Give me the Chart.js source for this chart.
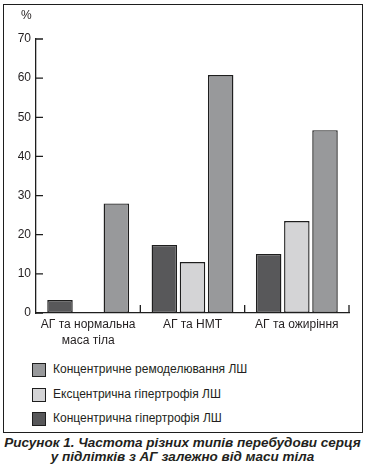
<!DOCTYPE html>
<html>
<head>
<meta charset="utf-8">
<script src="https://cdn.jsdelivr.net/npm/chart.js@4.4.1/dist/chart.umd.min.js"></script>
<style>
  html, body { margin: 0; padding: 0; background: #fff; }
  #page { position: relative; width: 365px; height: 474px; font-family: 'Liberation Sans', Arial, sans-serif; color: #231f20; }
  #frame { position: absolute; left: 3px; top: 4px; width: 360px; height: 429px; border: 1.5px solid #1e1e1e; box-sizing: border-box; }
  #chart { position: absolute; left: 0; top: 0; }
  #pct { position: absolute; left: 21px; top: 8px; font-size: 12px; }
  #legend { position: absolute; left: 32px; top: 362px; font-size: 12px; }
  .item { height: 24.5px; display: flex; align-items: flex-start; }
  .swatch { width: 14px; height: 14px; border: 1px solid #1e1e1e; box-sizing: border-box; margin-right: 7px; margin-top: 1px; }
  #caption { position: absolute; left: 0; top: 436px; width: 365px; text-align: center; font-size: 13.5px; line-height: 14px; font-weight: bold; font-style: italic; }
</style>
</head>
<body>
<div id="page">
  <div id="frame"></div>
  <canvas id="chart" width="365" height="350"></canvas>
  <div id="pct">%</div>
  <div id="legend"></div>
  <div id="caption">Рисунок 1. Частота різних типів перебудови серця<br>у підлітків з АГ залежно від маси тіла</div>
</div>
<script>
const categories = [['АГ та нормальна', 'маса тіла'], 'АГ та НМТ', 'АГ та ожиріння'];
const concHypertrophy = [3.3, 17.4, 15.1];     // Концентрична гіпертрофія ЛШ
const eccHypertrophy = [0, 13.0, 23.5];        // Ексцентрична гіпертрофія ЛШ
const concRemodeling = [28.0, 60.8, 46.7];     // Концентричне ремоделювання ЛШ
const yTicks = [0, 10, 20, 30, 40, 50, 60, 70];

const ink = '#1e1e1e';

// short ticks pointing into the plot, like the printed figure
const innerTicks = {
    id: 'innerTicks',
    afterDraw(c) {
        const ctx = c.ctx;
        const area = c.chartArea;
        const x = c.scales.x;
        const y = c.scales.y;
        ctx.save();
        ctx.strokeStyle = ink;
        ctx.lineWidth = 1.3;
        ctx.beginPath();
        yTicks.forEach(v => {
            const py = y.getPixelForValue(v);
            ctx.moveTo(area.left, py);
            ctx.lineTo(area.left + 7, py);
        });
        for (let i = 0; i < categories.length; i++) {
            const px = x.getPixelForValue(i + 0.5);
            ctx.moveTo(px, area.bottom);
            ctx.lineTo(px, area.bottom - 8);
        }
        ctx.stroke();
        ctx.restore();
    }
};

const chart = new Chart(document.getElementById('chart'), {
    type: 'bar',
    data: {
        labels: categories,
        datasets: [
            {
                label: 'Концентрична гіпертрофія ЛШ',
                data: concHypertrophy,
                backgroundColor: '#58585a',
                borderColor: ink,
                borderWidth: 1.4,
                borderSkipped: false
            },
            {
                label: 'Ексцентрична гіпертрофія ЛШ',
                data: eccHypertrophy,
                backgroundColor: '#d4d4d6',
                borderColor: ink,
                borderWidth: 1.4,
                borderSkipped: false
            },
            {
                label: 'Концентричне ремоделювання ЛШ',
                data: concRemodeling,
                backgroundColor: '#98999b',
                borderColor: ink,
                borderWidth: 1.4,
                borderSkipped: false
            }
        ]
    },
    options: {
        responsive: false,
        animation: false,
        devicePixelRatio: 1,
        categoryPercentage: 0.81,
        barPercentage: 0.905,
        layout: { padding: { left: 0, right: 16, top: 39, bottom: 0 } },
        plugins: {
            legend: { display: false },
            tooltip: { enabled: false }
        },
        scales: {
            x: {
                grid: { display: false, drawTicks: false },
                border: { display: true, color: ink, width: 1.3 },
                ticks: {
                    color: '#231f20',
                    padding: 3,
                    maxRotation: 0,
                    autoSkip: false,
                    font: { family: 'Liberation Sans', size: 12, lineHeight: 1.38 }
                },
                afterFit(s) { s.height = 37; }
            },
            y: {
                min: 0,
                max: 70,
                grid: { display: false, drawTicks: false },
                border: { display: true, color: ink, width: 1.3 },
                ticks: {
                    stepSize: 10,
                    color: '#231f20',
                    padding: 5,
                    font: { family: 'Liberation Sans', size: 12 }
                },
                afterFit(s) { s.width = 36; }
            }
        }
    },
    plugins: [innerTicks]
});

// legend in reverse dataset order, as in the figure
const legendEl = document.getElementById('legend');
chart.data.datasets.slice().reverse().forEach(ds => {
    const row = document.createElement('div');
    row.className = 'item';
    const sw = document.createElement('div');
    sw.className = 'swatch';
    sw.style.background = ds.backgroundColor;
    const txt = document.createElement('span');
    txt.textContent = ds.label;
    row.appendChild(sw);
    row.appendChild(txt);
    legendEl.appendChild(row);
});
</script>
</body>
</html>
